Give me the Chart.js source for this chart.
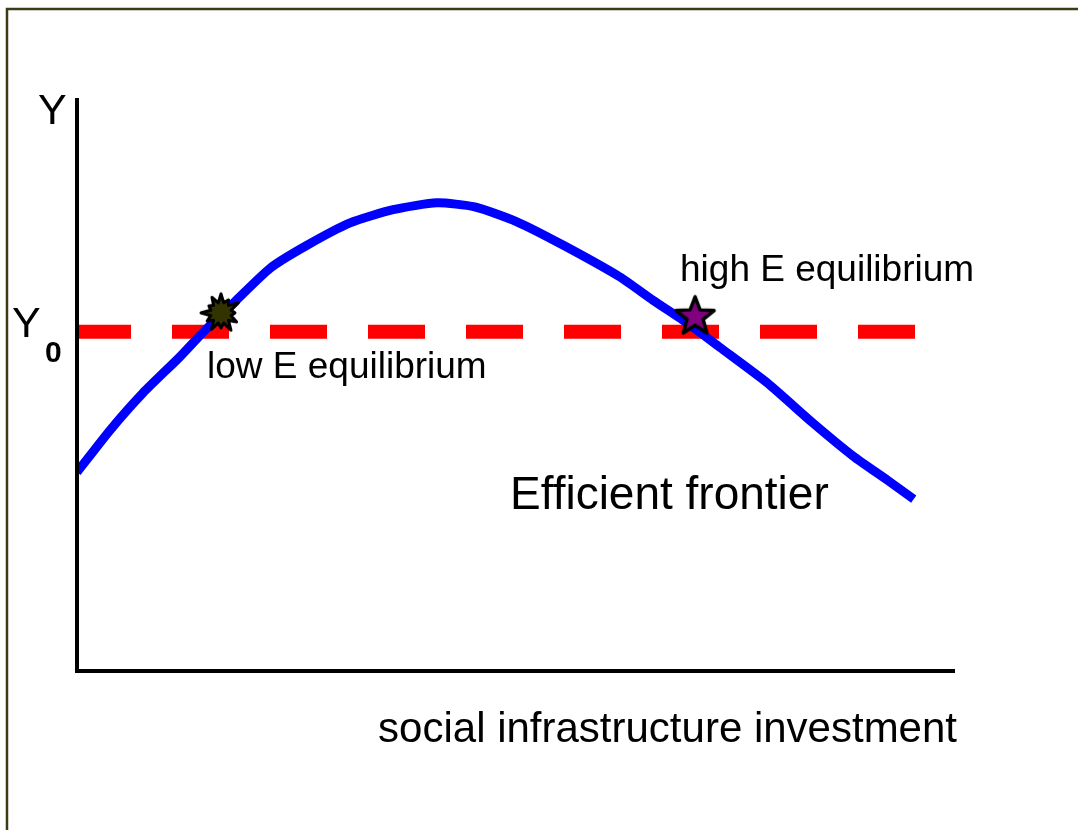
<!DOCTYPE html>
<html>
<head>
<meta charset="utf-8">
<title>Efficient frontier</title>
<script src="https://cdn.jsdelivr.net/npm/chart.js@4/dist/chart.umd.min.js"></script>
<style>
  html, body { margin: 0; padding: 0; background: #fff; }
  #wrap { position: relative; width: 1078px; height: 830px; }
</style>
</head>
<body>
<div id="wrap"><canvas id="chart" width="1078" height="830"></canvas></div>
<script>
// frontier curve (x: investment, y: output, both 0..100)
const frontierX = [0, 3.8, 7.5, 11.7, 14.6, 17.8, 22.0, 26.2, 31.1, 36.0, 41.0, 45.3, 50.1, 55.4, 61.8, 65.6, 69.5, 73.2, 78.6, 83.8, 88.4, 92.3, 95.3];
const frontierY = [34.7, 42.1, 48.5, 54.8, 59.5, 64.2, 70.3, 74.3, 78.2, 80.5, 81.7, 81.0, 78.4, 74.3, 68.8, 64.7, 60.7, 56.5, 50.3, 43.3, 37.5, 33.3, 30.0];

// the Y0 level
const levelX = [0, 95.6];
const levelY0 = 59.2;

// the two equilibria
const eqLabels = ['low E equilibrium', 'high E equilibrium'];
const eqX = [16.4, 70.4];
const eqY = [62.5, 62.0];

const axisLabelX = 'social infrastructure investment';
const axisLabelY = 'Y';
const curveLabel = 'Efficient frontier';

const FONT = '"Liberation Sans", Arial, sans-serif';

// ---- custom marker images ----
function makeBurst() {
  const c = document.createElement('canvas');
  c.width = 50; c.height = 50;
  const g = c.getContext('2d');
  const cx = 25, cy = 25;
  const outer = [19, 15, 20, 14, 18, 20, 15, 19, 16, 20, 14, 18];
  g.beginPath();
  outer.forEach((r, i) => {
    const a1 = (i / outer.length) * Math.PI * 2 - Math.PI / 2;
    const a2 = ((i + 0.5) / outer.length) * Math.PI * 2 - Math.PI / 2;
    const x1 = cx + r * Math.cos(a1), y1 = cy + r * Math.sin(a1);
    const x2 = cx + 10.5 * Math.cos(a2), y2 = cy + 10.5 * Math.sin(a2);
    if (i === 0) g.moveTo(x1, y1); else g.lineTo(x1, y1);
    g.lineTo(x2, y2);
  });
  g.closePath();
  g.fillStyle = '#333300';
  g.fill();
  g.lineWidth = 3;
  g.lineJoin = 'round';
  g.strokeStyle = '#000';
  g.stroke();
  return c;
}

function makeStar() {
  const c = document.createElement('canvas');
  c.width = 50; c.height = 50;
  const g = c.getContext('2d');
  const cx = 25, cy = 26;
  g.beginPath();
  for (let i = 0; i < 10; i++) {
    const r = i % 2 === 0 ? 20 : 8.5;
    const a = (i / 10) * Math.PI * 2 - Math.PI / 2;
    const x = cx + r * Math.cos(a), y = cy + r * Math.sin(a);
    if (i === 0) g.moveTo(x, y); else g.lineTo(x, y);
  }
  g.closePath();
  g.fillStyle = '#800080';
  g.fill();
  g.lineWidth = 3.5;
  g.lineJoin = 'round';
  g.strokeStyle = '#000';
  g.stroke();
  return c;
}

// axes, frame and annotations
const decorations = {
  id: 'decorations',
  afterDraw(chart) {
    const { ctx, chartArea: a } = chart;
    ctx.save();

    // outer frame (top and left only visible)
    ctx.strokeStyle = '#3c3c14';
    ctx.lineWidth = 2.5;
    ctx.beginPath();
    ctx.moveTo(7, 830);
    ctx.lineTo(7, 9);
    ctx.lineTo(1078, 9);
    ctx.stroke();

    // axes
    ctx.strokeStyle = '#000';
    ctx.lineWidth = 4;
    ctx.lineCap = 'butt';
    ctx.beginPath();
    ctx.moveTo(a.left, a.top);
    ctx.lineTo(a.left, a.bottom);
    ctx.lineTo(a.right, a.bottom);
    ctx.stroke();

    ctx.fillStyle = '#000';
    ctx.textBaseline = 'alphabetic';
    ctx.textAlign = 'left';

    ctx.font = '43px ' + FONT;
    ctx.fillText(axisLabelY, 38, 124);
    ctx.fillText(axisLabelY, 12, 337);
    ctx.font = 'bold 30px ' + FONT;
    ctx.fillText('0', 45, 362);

    ctx.font = '37px ' + FONT;
    ctx.fillText(eqLabels[0], 207, 378);
    ctx.fillText(eqLabels[1], 680, 281);

    ctx.font = '46px ' + FONT;
    ctx.fillText(curveLabel, 510, 509);

    ctx.textAlign = 'right';
    ctx.font = '42px ' + FONT;
    ctx.fillText(axisLabelX, 957, 742);
    ctx.restore();
  }
};

const burst = makeBurst();
const star = makeStar();

new Chart(document.getElementById('chart'), {
  type: 'line',
  data: {
    datasets: [
      {
        label: 'Y0',
        data: levelX.map(x => ({ x, y: levelY0 })),
        borderColor: '#ff0000',
        borderWidth: 14,
        borderDash: [57, 41],
        borderDashOffset: 3,
        borderCapStyle: 'butt',
        pointRadius: 0,
        order: 3
      },
      {
        label: curveLabel,
        data: frontierX.map((x, i) => ({ x, y: frontierY[i] })),
        borderColor: '#0000ff',
        borderWidth: 9,
        tension: 0.2,
        borderJoinStyle: 'round',
        pointRadius: 0,
        order: 2
      },
      {
        label: 'equilibria',
        data: eqX.map((x, i) => ({ x, y: eqY[i] })),
        showLine: false,
        pointStyle: [burst, star],
        pointRadius: 22,
        order: 1
      }
    ]
  },
  options: {
    responsive: false,
    animation: false,
    events: [],
    layout: { padding: { left: 77, right: 123, top: 98, bottom: 159 } },
    plugins: { legend: { display: false }, tooltip: { enabled: false } },
    scales: {
      x: { type: 'linear', min: 0, max: 100, display: false },
      y: { type: 'linear', min: 0, max: 100, display: false }
    }
  },
  plugins: [decorations]
});
</script>
</body>
</html>
